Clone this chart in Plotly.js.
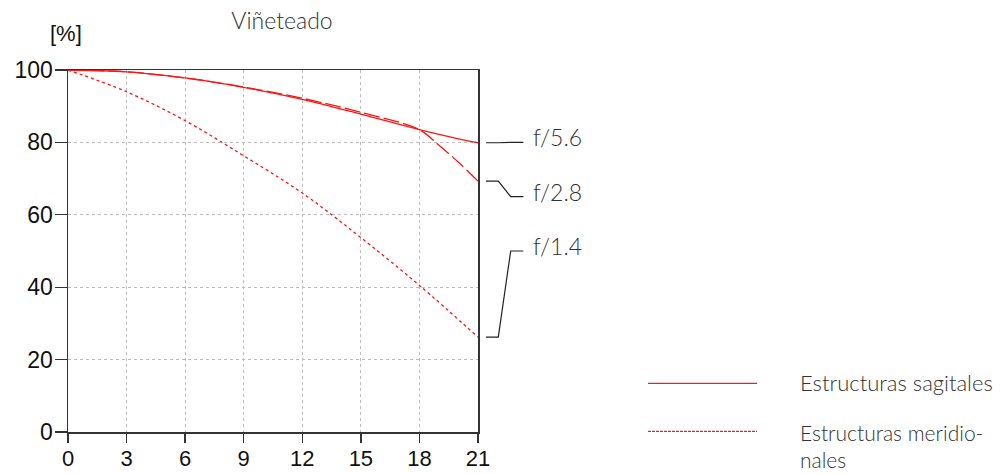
<!DOCTYPE html>
<html>
<head>
<meta charset="utf-8">
<script src="https://cdn.plot.ly/plotly-3.0.1.min.js"></script>
<style>html,body{margin:0;padding:0;background:#fff}#chart{width:1005px;height:474px}</style>
</head>
<body>
<div id="chart"></div>
<script>
// Data
const imageHeight = [0, 3, 6, 9, 12, 15, 18, 19, 20, 21];
const f56 = [100, 99.5, 97.8, 95.2, 91.9, 87.8, 83.5, 82.2, 81.0, 79.9];
const f28 = [100, 99.5, 97.8, 95.3, 92.2, 88.3, 83.5, 79.2, 74.5, 69.3];
const imageHeight14 = [0, 3, 6, 9, 12, 15, 18, 21];
const f14 = [100, 94.0, 86.0, 76.3, 66.0, 53.7, 40.5, 26.2];
const apertureLabels = ['f/5.6', 'f/2.8', 'f/1.4'];
const labelLevels = [80, 65, 50];
const xTicks = [0, 3, 6, 9, 12, 15, 18, 21];
const yTicks = [0, 20, 40, 60, 80, 100];
const legendLabels = ['Estructuras sagitales', 'Estructuras meridio-<br>nales'];

const red = 'rgb(255,20,20)';
const textFont = {family: 'Lato, "Open Sans", sans-serif', size: 23, color: '#333', weight: 300};
const legendFont = {family: 'Lato, "Open Sans", sans-serif', size: 22, color: '#333', weight: 300};
const legendFont2 = {family: 'Lato, "Open Sans", sans-serif', size: 21, color: '#333', weight: 300};
const tickFont = {family: '"Liberation Sans", Arial, sans-serif', size: 22, color: '#111'};

const traces = [
  {x: imageHeight, y: f56, mode: 'lines', line: {color: red, width: 1.3, shape: 'spline'}, showlegend: false, hoverinfo: 'skip'},
  {x: imageHeight, y: f28, mode: 'lines', line: {color: red, width: 1.3, shape: 'spline', dash: '16px,4px'}, showlegend: false, hoverinfo: 'skip'},
  {x: imageHeight14, y: f14, mode: 'lines', line: {color: red, width: 1.3, shape: 'spline', dash: '3px,3px'}, showlegend: false, hoverinfo: 'skip'}
];

// leader line positions (paper fractions)
const px = p => (p - 68) / 410;
const py = p => (431.7 - p) / 362;
const ends = [f56[f56.length - 1], f28[f28.length - 1], f14[f14.length - 1]];
const shapes = [];
const annotations = [];
for (let i = 0; i < 3; i++) {
  const y0 = ends[i] / 100, y1 = labelLevels[i] / 100;
  shapes.push({
    type: 'path', xref: 'paper', yref: 'paper',
    path: `M ${px(486)} ${y0} L ${px(498.3)} ${y0} L ${px(510.7)} ${y1} L ${px(523.3)} ${y1}`,
    line: {color: '#222', width: 1.2}
  });
  annotations.push({
    xref: 'paper', yref: 'paper', x: px(531), y: y1 + 0.014, text: apertureLabels[i],
    showarrow: false, xanchor: 'left', yanchor: 'middle', font: textFont
  });
}
// legend
shapes.push({type: 'line', xref: 'paper', yref: 'paper', x0: px(648), x1: px(757), y0: py(383), y1: py(383), line: {color: '#e8202e', width: 1.3}});
shapes.push({type: 'line', xref: 'paper', yref: 'paper', x0: px(648), x1: px(757), y0: py(431), y1: py(431), line: {color: '#e8202e', width: 1.3, dash: '3px,1px'}});
annotations.push({xref: 'paper', yref: 'paper', x: px(798), y: py(382), text: legendLabels[0], showarrow: false, xanchor: 'left', yanchor: 'middle', font: legendFont});
annotations.push({xref: 'paper', yref: 'paper', x: px(798), y: py(446), text: legendLabels[1], showarrow: false, xanchor: 'left', align: 'left', yanchor: 'middle', font: legendFont2});
// [%]
annotations.push({xref: 'paper', yref: 'paper', x: px(66), y: py(33), text: '[%]', showarrow: false, xanchor: 'center', yanchor: 'middle', font: {family: '"Liberation Sans", Arial, sans-serif', size: 22, color: '#111'}});

const layout = {
  width: 1005, height: 474,
  margin: {l: 68, r: 527, t: 70, b: 42},
  paper_bgcolor: '#fff', plot_bgcolor: '#fff',
  title: {text: 'Viñeteado', x: 282 / 1005, xref: 'container', xanchor: 'center', y: 1 - 21 / 474, yref: 'container', yanchor: 'middle', font: textFont},
  xaxis: {
    range: [0, 21], tickvals: xTicks, ticktext: xTicks.map(String),
    showgrid: true, gridcolor: '#bdbdbd', griddash: '3px,3px', gridwidth: 1,
    showline: true, linecolor: '#333', linewidth: 1.5, mirror: true,
    ticks: 'outside', ticklen: 9, tickcolor: '#333', tickwidth: 1.3,
    tickfont: tickFont, zeroline: false, fixedrange: true, ticklabelstandoff: -3
  },
  yaxis: {
    range: [0, 100], tickvals: yTicks, ticktext: yTicks.map(String),
    showgrid: true, gridcolor: '#bdbdbd', griddash: '3px,3px', gridwidth: 1,
    showline: true, linecolor: '#333', linewidth: 1.5, mirror: true,
    ticks: 'outside', ticklen: 12, tickcolor: '#333', tickwidth: 1.3,
    tickfont: {family: tickFont.family, size: 23, color: '#111'}, zeroline: false, fixedrange: true, ticklabelstandoff: -3
  },
  shapes: shapes,
  annotations: annotations,
  showlegend: false
};

Plotly.newPlot('chart', traces, layout, {staticPlot: true});
</script>
</body>
</html>
